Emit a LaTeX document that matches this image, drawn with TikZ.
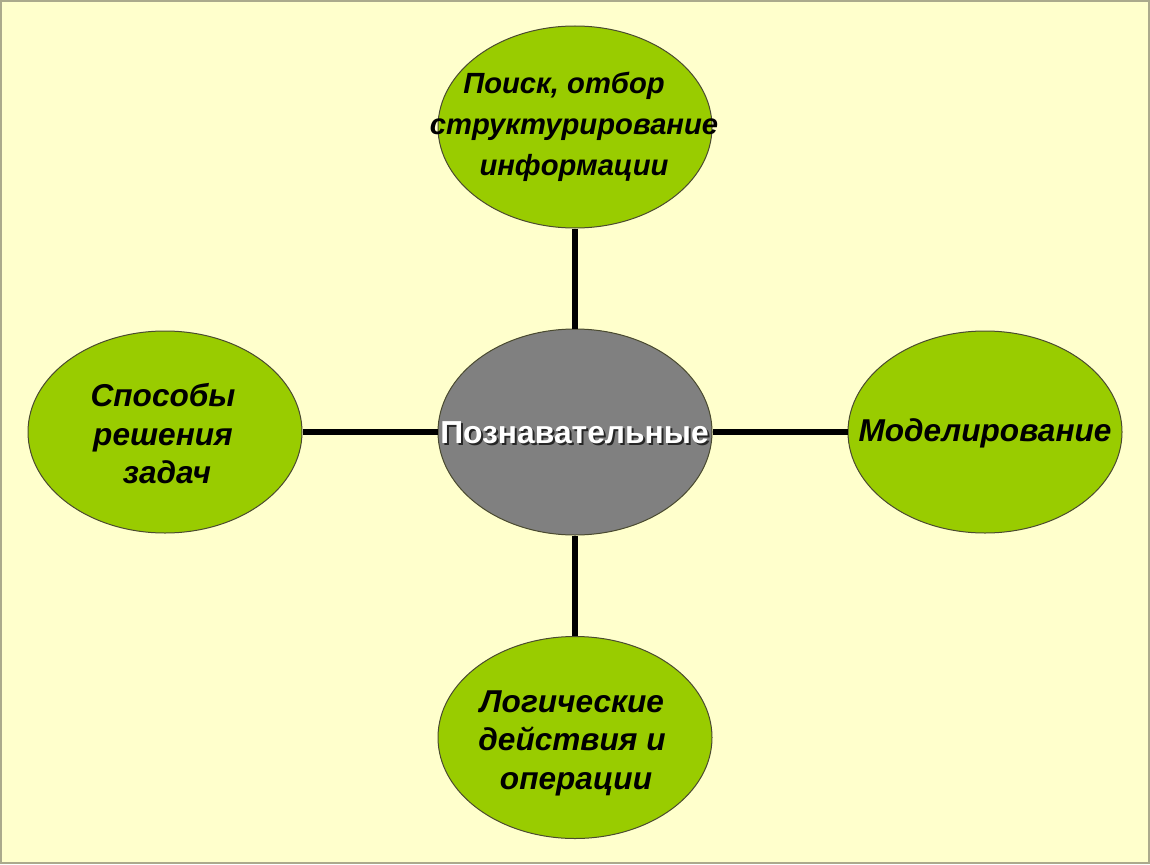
\documentclass[tikz,border=0pt]{standalone}
\usepackage{fontspec}
\setmainfont{Liberation Sans}
\usetikzlibrary{shapes.geometric}
\definecolor{bg}{HTML}{FFFFCC}
\definecolor{frame}{HTML}{ABAA8C}
\definecolor{leaf}{HTML}{99CC00}
\definecolor{hub}{HTML}{808080}
\definecolor{rim}{HTML}{4A4A30}
\tikzset{
  blob/.style={ellipse, draw=rim, line width=1pt, inner sep=0pt, minimum width=274pt, minimum height=202pt},
  leafblob/.style={blob, fill=leaf},
  hubblob/.style={blob, fill=hub, minimum height=206pt},
  leaftext/.style={align=center, font=\fontsize{31.6}{38.5}\selectfont\bfseries\itshape, text=black, inner sep=0pt},
  toptext/.style={leaftext, font=\fontsize{29.2}{41}\selectfont\bfseries\itshape},
  hubtext/.style={font=\fontsize{31.8}{36}\selectfont\bfseries, inner sep=0pt},
  link/.style={line width=6pt, draw=black}
}
\begin{document}
\begin{tikzpicture}[x=1pt,y=-1pt]
\useasboundingbox (0,0) rectangle (1150,864);
\fill[bg] (0,0) rectangle (1150,864);
\draw[frame, line width=2pt] (1,1) rectangle (1149,863);
\node[hubblob] (hub) at (575,432) {};
\node[leafblob] (top) at (575,127) {};
\node[leafblob] (left) at (165,432) {};
\node[leafblob] (right) at (985,432) {};
\node[leafblob] (bottom) at (575,737.5) {};
\draw[link] (top) -- (hub);
\draw[link] (left) -- (hub);
\draw[link] (right) -- (hub);
\draw[link] (bottom) -- (hub);
\node[hubtext, text=black!85] (hubshadow) at (576.5,434.5) {Познавательные};
\node[hubtext, text=white] (hublabel) at (574.5,433) {Познавательные};
\node[toptext] (toplabel) at (574,127) {Поиск, отбор\kern20pt\\структурирование\\информации};
\node[leaftext] (leftlabel) at (163,434) {Способы\\решения\\\hspace{8pt}задач};
\node[leaftext] (rightlabel) at (985,433) {Моделирование};
\node[leaftext] (bottomlabel) at (572,743) {Логические\\действия и\\\hspace{8pt}операции};
\end{tikzpicture}
\end{document}
